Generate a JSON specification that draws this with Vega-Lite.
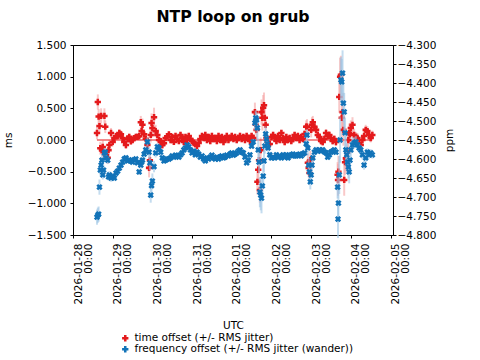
{
  "$schema": "https://vega.github.io/schema/vega-lite/v6.json",
  "width": 320,
  "height": 190,
  "autosize": {"type": "none"},
  "padding": {"left": 73, "top": 45, "right": 87, "bottom": 125},
  "background": "white",
  "title": {"text": "NTP loop on grub", "font": "DejaVu Sans", "fontSize": 15.7, "fontWeight": "bold", "color": "black", "anchor": "middle", "offset": 14},
  "config": {
    "font": "DejaVu Sans",
    "view": {"stroke": "black", "strokeWidth": 1},
    "axis": {"labelFont": "DejaVu Sans", "labelFontSize": 10.5, "labelColor": "black", "titleFont": "DejaVu Sans", "titleFontSize": 10.5, "titleFontWeight": "normal", "titleColor": "black", "domainColor": "black", "tickColor": "black", "grid": false, "tickSize": 3},
    "legend": {"labelFont": "DejaVu Sans", "labelFontSize": 10.5, "labelColor": "black"}
  },
  "data": {"values": [
    {"t":"2026-01-28T14:30:00Z","ms":0.11,"mj":0.10,"ppm":-4.753,"pj":0.02},
    {"t":"2026-01-28T15:00:00Z","ms":0.60,"mj":0.12,"ppm":-4.748,"pj":0.02},
    {"t":"2026-01-28T15:30:00Z","ms":0.37,"mj":0.12,"ppm":-4.745,"pj":0.02},
    {"t":"2026-01-28T16:00:00Z","ms":0.22,"mj":0.12,"ppm":-4.674,"pj":0.02},
    {"t":"2026-01-28T16:30:00Z","ms":-0.13,"mj":0.10,"ppm":-4.629,"pj":0.015},
    {"t":"2026-01-28T17:00:00Z","ms":0.38,"mj":0.12,"ppm":-4.616,"pj":0.015},
    {"t":"2026-01-28T17:30:00Z","ms":-0.16,"mj":0.10,"ppm":-4.603,"pj":0.015},
    {"t":"2026-01-28T18:00:00Z","ms":-0.11,"mj":0.10,"ppm":-4.642,"pj":0.012},
    {"t":"2026-01-28T18:30:00Z","ms":-0.19,"mj":0.10,"ppm":-4.629,"pj":0.012},
    {"t":"2026-01-28T19:00:00Z","ms":0.38,"mj":0.12,"ppm":-4.584,"pj":0.012},
    {"t":"2026-01-28T19:30:00Z","ms":0.21,"mj":0.10,"ppm":-4.582,"pj":0.01},
    {"t":"2026-01-28T20:00:00Z","ms":-0.24,"mj":0.10,"ppm":-4.597,"pj":0.01},
    {"t":"2026-01-28T21:00:00Z","ms":-0.28,"mj":0.10,"ppm":-4.603,"pj":0.01},
    {"t":"2026-01-28T21:30:00Z","ms":-0.16,"mj":0.08,"ppm":-4.647,"pj":0.01},
    {"t":"2026-01-28T22:00:00Z","ms":-0.08,"mj":0.08,"ppm":-4.642,"pj":0.01},
    {"t":"2026-01-28T23:00:00Z","ms":0.11,"mj":0.08,"ppm":-4.650,"pj":0.01},
    {"t":"2026-01-29T00:00:00Z","ms":-0.03,"mj":0.07,"ppm":-4.645,"pj":0.008},
    {"t":"2026-01-29T01:00:00Z","ms":0.03,"mj":0.07,"ppm":-4.650,"pj":0.008},
    {"t":"2026-01-29T02:00:00Z","ms":0.06,"mj":0.06,"ppm":-4.637,"pj":0.008},
    {"t":"2026-01-29T03:00:00Z","ms":0.06,"mj":0.06,"ppm":-4.632,"pj":0.008},
    {"t":"2026-01-29T04:00:00Z","ms":0.11,"mj":0.06,"ppm":-4.624,"pj":0.007},
    {"t":"2026-01-29T05:00:00Z","ms":0.09,"mj":0.06,"ppm":-4.616,"pj":0.007},
    {"t":"2026-01-29T06:00:00Z","ms":0.03,"mj":0.06,"ppm":-4.608,"pj":0.007},
    {"t":"2026-01-29T07:00:00Z","ms":-0.03,"mj":0.06,"ppm":-4.600,"pj":0.007},
    {"t":"2026-01-29T08:00:00Z","ms":-0.08,"mj":0.06,"ppm":-4.597,"pj":0.006},
    {"t":"2026-01-29T09:00:00Z","ms":0.02,"mj":0.05,"ppm":-4.605,"pj":0.006},
    {"t":"2026-01-29T10:00:00Z","ms":0.05,"mj":0.05,"ppm":-4.602,"pj":0.006},
    {"t":"2026-01-29T11:00:00Z","ms":-0.02,"mj":0.05,"ppm":-4.605,"pj":0.006},
    {"t":"2026-01-29T12:00:00Z","ms":0.0,"mj":0.05,"ppm":-4.608,"pj":0.006},
    {"t":"2026-01-29T13:00:00Z","ms":0.03,"mj":0.05,"ppm":-4.602,"pj":0.006},
    {"t":"2026-01-29T14:00:00Z","ms":0.05,"mj":0.05,"ppm":-4.600,"pj":0.006},
    {"t":"2026-01-29T15:00:00Z","ms":0.05,"mj":0.05,"ppm":-4.610,"pj":0.006},
    {"t":"2026-01-29T16:00:00Z","ms":0.06,"mj":0.06,"ppm":-4.634,"pj":0.008},
    {"t":"2026-01-29T17:00:00Z","ms":0.28,"mj":0.10,"ppm":-4.616,"pj":0.01},
    {"t":"2026-01-29T17:30:00Z","ms":0.14,"mj":0.10,"ppm":-4.608,"pj":0.01},
    {"t":"2026-01-29T18:00:00Z","ms":0.24,"mj":0.10,"ppm":-4.603,"pj":0.01},
    {"t":"2026-01-29T19:00:00Z","ms":0.09,"mj":0.08,"ppm":-4.587,"pj":0.01},
    {"t":"2026-01-29T20:00:00Z","ms":0.02,"mj":0.08,"ppm":-4.576,"pj":0.01},
    {"t":"2026-01-29T21:00:00Z","ms":-0.08,"mj":0.10,"ppm":-4.555,"pj":0.012},
    {"t":"2026-01-29T22:00:00Z","ms":-0.44,"mj":0.15,"ppm":-4.582,"pj":0.015},
    {"t":"2026-01-29T22:30:00Z","ms":-0.32,"mj":0.15,"ppm":-4.610,"pj":0.02},
    {"t":"2026-01-29T23:00:00Z","ms":0.08,"mj":0.12,"ppm":-4.695,"pj":0.02},
    {"t":"2026-01-29T23:30:00Z","ms":0.27,"mj":0.15,"ppm":-4.670,"pj":0.02},
    {"t":"2026-01-30T00:00:00Z","ms":0.19,"mj":0.15,"ppm":-4.658,"pj":0.02},
    {"t":"2026-01-30T01:00:00Z","ms":0.36,"mj":0.15,"ppm":-4.620,"pj":0.015},
    {"t":"2026-01-30T02:00:00Z","ms":0.14,"mj":0.10,"ppm":-4.584,"pj":0.012},
    {"t":"2026-01-30T03:00:00Z","ms":0.08,"mj":0.08,"ppm":-4.568,"pj":0.01},
    {"t":"2026-01-30T04:00:00Z","ms":0.0,"mj":0.06,"ppm":-4.571,"pj":0.008},
    {"t":"2026-01-30T05:00:00Z","ms":-0.02,"mj":0.06,"ppm":-4.582,"pj":0.008},
    {"t":"2026-01-30T06:00:00Z","ms":-0.08,"mj":0.06,"ppm":-4.597,"pj":0.007},
    {"t":"2026-01-30T07:00:00Z","ms":-0.05,"mj":0.05,"ppm":-4.605,"pj":0.006},
    {"t":"2026-01-30T08:00:00Z","ms":0.03,"mj":0.05,"ppm":-4.603,"pj":0.006},
    {"t":"2026-01-30T09:00:00Z","ms":0.06,"mj":0.05,"ppm":-4.600,"pj":0.006},
    {"t":"2026-01-30T10:00:00Z","ms":0.09,"mj":0.05,"ppm":-4.600,"pj":0.006},
    {"t":"2026-01-30T11:00:00Z","ms":0.0,"mj":0.05,"ppm":-4.597,"pj":0.006},
    {"t":"2026-01-30T12:00:00Z","ms":0.047,"mj":0.05,"ppm":-4.592,"pj":0.005},
    {"t":"2026-01-30T13:00:00Z","ms":-0.03,"mj":0.05,"ppm":-4.595,"pj":0.005},
    {"t":"2026-01-30T14:00:00Z","ms":0.063,"mj":0.05,"ppm":-4.590,"pj":0.005},
    {"t":"2026-01-30T15:00:00Z","ms":0.016,"mj":0.05,"ppm":-4.592,"pj":0.005},
    {"t":"2026-01-30T16:00:00Z","ms":-0.016,"mj":0.05,"ppm":-4.595,"pj":0.005},
    {"t":"2026-01-30T17:00:00Z","ms":0.079,"mj":0.05,"ppm":-4.589,"pj":0.005},
    {"t":"2026-01-30T18:00:00Z","ms":0.032,"mj":0.05,"ppm":-4.584,"pj":0.005},
    {"t":"2026-01-30T19:00:00Z","ms":-0.032,"mj":0.05,"ppm":-4.576,"pj":0.005},
    {"t":"2026-01-30T20:00:00Z","ms":0.047,"mj":0.05,"ppm":-4.571,"pj":0.005},
    {"t":"2026-01-30T21:00:00Z","ms":0.0,"mj":0.05,"ppm":-4.563,"pj":0.005},
    {"t":"2026-01-30T22:00:00Z","ms":0.063,"mj":0.05,"ppm":-4.568,"pj":0.005},
    {"t":"2026-01-30T23:00:00Z","ms":0.016,"mj":0.05,"ppm":-4.576,"pj":0.005},
    {"t":"2026-01-31T00:00:00Z","ms":-0.016,"mj":0.05,"ppm":-4.584,"pj":0.005},
    {"t":"2026-01-31T01:00:00Z","ms":-0.047,"mj":0.05,"ppm":-4.579,"pj":0.005},
    {"t":"2026-01-31T02:00:00Z","ms":-0.063,"mj":0.05,"ppm":-4.589,"pj":0.005},
    {"t":"2026-01-31T03:00:00Z","ms":-0.095,"mj":0.05,"ppm":-4.582,"pj":0.005},
    {"t":"2026-01-31T04:00:00Z","ms":-0.047,"mj":0.05,"ppm":-4.587,"pj":0.005},
    {"t":"2026-01-31T05:00:00Z","ms":0.016,"mj":0.05,"ppm":-4.595,"pj":0.005},
    {"t":"2026-01-31T06:00:00Z","ms":0.063,"mj":0.05,"ppm":-4.592,"pj":0.005},
    {"t":"2026-01-31T07:00:00Z","ms":0.032,"mj":0.05,"ppm":-4.600,"pj":0.005},
    {"t":"2026-01-31T08:00:00Z","ms":0.079,"mj":0.05,"ppm":-4.605,"pj":0.005},
    {"t":"2026-01-31T09:00:00Z","ms":0.0,"mj":0.05,"ppm":-4.597,"pj":0.005},
    {"t":"2026-01-31T10:00:00Z","ms":0.047,"mj":0.05,"ppm":-4.600,"pj":0.005},
    {"t":"2026-01-31T11:00:00Z","ms":-0.016,"mj":0.05,"ppm":-4.595,"pj":0.005},
    {"t":"2026-01-31T12:00:00Z","ms":0.063,"mj":0.05,"ppm":-4.590,"pj":0.005},
    {"t":"2026-01-31T13:00:00Z","ms":0.016,"mj":0.05,"ppm":-4.597,"pj":0.005},
    {"t":"2026-01-31T14:00:00Z","ms":0.032,"mj":0.05,"ppm":-4.600,"pj":0.005},
    {"t":"2026-01-31T15:00:00Z","ms":-0.016,"mj":0.05,"ppm":-4.595,"pj":0.005},
    {"t":"2026-01-31T16:00:00Z","ms":0.063,"mj":0.05,"ppm":-4.600,"pj":0.005},
    {"t":"2026-01-31T17:00:00Z","ms":0.0,"mj":0.05,"ppm":-4.595,"pj":0.005},
    {"t":"2026-01-31T18:00:00Z","ms":0.047,"mj":0.05,"ppm":-4.592,"pj":0.005},
    {"t":"2026-01-31T19:00:00Z","ms":-0.032,"mj":0.05,"ppm":-4.597,"pj":0.005},
    {"t":"2026-01-31T20:00:00Z","ms":0.016,"mj":0.05,"ppm":-4.595,"pj":0.005},
    {"t":"2026-01-31T21:00:00Z","ms":0.063,"mj":0.05,"ppm":-4.590,"pj":0.005},
    {"t":"2026-01-31T22:00:00Z","ms":0.0,"mj":0.05,"ppm":-4.592,"pj":0.005},
    {"t":"2026-01-31T23:00:00Z","ms":0.032,"mj":0.05,"ppm":-4.587,"pj":0.005},
    {"t":"2026-02-01T00:00:00Z","ms":0.063,"mj":0.05,"ppm":-4.584,"pj":0.005},
    {"t":"2026-02-01T01:00:00Z","ms":0.016,"mj":0.05,"ppm":-4.590,"pj":0.005},
    {"t":"2026-02-01T02:00:00Z","ms":0.047,"mj":0.05,"ppm":-4.587,"pj":0.005},
    {"t":"2026-02-01T03:00:00Z","ms":0.0,"mj":0.05,"ppm":-4.584,"pj":0.005},
    {"t":"2026-02-01T04:00:00Z","ms":0.032,"mj":0.05,"ppm":-4.579,"pj":0.005},
    {"t":"2026-02-01T05:00:00Z","ms":0.063,"mj":0.05,"ppm":-4.576,"pj":0.005},
    {"t":"2026-02-01T06:00:00Z","ms":0.016,"mj":0.05,"ppm":-4.582,"pj":0.005},
    {"t":"2026-02-01T07:00:00Z","ms":0.047,"mj":0.05,"ppm":-4.584,"pj":0.005},
    {"t":"2026-02-01T08:00:00Z","ms":0.0,"mj":0.05,"ppm":-4.595,"pj":0.005},
    {"t":"2026-02-01T09:00:00Z","ms":0.063,"mj":0.05,"ppm":-4.610,"pj":0.005},
    {"t":"2026-02-01T10:00:00Z","ms":0.032,"mj":0.05,"ppm":-4.603,"pj":0.005},
    {"t":"2026-02-01T11:00:00Z","ms":-0.016,"mj":0.05,"ppm":-4.589,"pj":0.005},
    {"t":"2026-02-01T12:00:00Z","ms":0.063,"mj":0.05,"ppm":-4.566,"pj":0.006},
    {"t":"2026-02-01T13:00:00Z","ms":0.032,"mj":0.06,"ppm":-4.555,"pj":0.008},
    {"t":"2026-02-01T14:00:00Z","ms":0.44,"mj":0.15,"ppm":-4.505,"pj":0.02},
    {"t":"2026-02-01T14:30:00Z","ms":0.24,"mj":0.15,"ppm":-4.492,"pj":0.02},
    {"t":"2026-02-01T15:00:00Z","ms":0.16,"mj":0.15,"ppm":-4.497,"pj":0.02},
    {"t":"2026-02-01T15:30:00Z","ms":-0.66,"mj":0.20,"ppm":-4.518,"pj":0.03},
    {"t":"2026-02-01T16:00:00Z","ms":-0.47,"mj":0.20,"ppm":-4.576,"pj":0.03},
    {"t":"2026-02-01T16:30:00Z","ms":-0.32,"mj":0.20,"ppm":-4.608,"pj":0.03},
    {"t":"2026-02-01T17:00:00Z","ms":-0.79,"mj":0.20,"ppm":-4.687,"pj":0.04},
    {"t":"2026-02-01T17:30:00Z","ms":-0.16,"mj":0.20,"ppm":-4.695,"pj":0.04},
    {"t":"2026-02-01T18:00:00Z","ms":0.44,"mj":0.20,"ppm":-4.703,"pj":0.04},
    {"t":"2026-02-01T18:30:00Z","ms":0.35,"mj":0.20,"ppm":-4.671,"pj":0.03},
    {"t":"2026-02-01T19:00:00Z","ms":0.51,"mj":0.20,"ppm":-4.645,"pj":0.03},
    {"t":"2026-02-01T19:30:00Z","ms":0.55,"mj":0.20,"ppm":-4.605,"pj":0.03},
    {"t":"2026-02-01T20:00:00Z","ms":0.35,"mj":0.15,"ppm":-4.566,"pj":0.02},
    {"t":"2026-02-01T20:30:00Z","ms":0.24,"mj":0.12,"ppm":-4.534,"pj":0.02},
    {"t":"2026-02-01T21:00:00Z","ms":0.032,"mj":0.10,"ppm":-4.547,"pj":0.015},
    {"t":"2026-02-01T21:30:00Z","ms":-0.032,"mj":0.08,"ppm":-4.560,"pj":0.012},
    {"t":"2026-02-01T22:00:00Z","ms":-0.079,"mj":0.07,"ppm":-4.571,"pj":0.01},
    {"t":"2026-02-01T23:00:00Z","ms":-0.063,"mj":0.06,"ppm":-4.589,"pj":0.008},
    {"t":"2026-02-02T00:00:00Z","ms":0.047,"mj":0.05,"ppm":-4.597,"pj":0.006},
    {"t":"2026-02-02T01:00:00Z","ms":0.079,"mj":0.05,"ppm":-4.595,"pj":0.006},
    {"t":"2026-02-02T02:00:00Z","ms":0.032,"mj":0.05,"ppm":-4.597,"pj":0.006},
    {"t":"2026-02-02T03:00:00Z","ms":-0.016,"mj":0.05,"ppm":-4.589,"pj":0.006},
    {"t":"2026-02-02T04:00:00Z","ms":0.063,"mj":0.05,"ppm":-4.595,"pj":0.006},
    {"t":"2026-02-02T05:00:00Z","ms":0.0,"mj":0.05,"ppm":-4.592,"pj":0.006},
    {"t":"2026-02-02T06:00:00Z","ms":0.111,"mj":0.05,"ppm":-4.597,"pj":0.006},
    {"t":"2026-02-02T07:00:00Z","ms":0.032,"mj":0.05,"ppm":-4.589,"pj":0.006},
    {"t":"2026-02-02T08:00:00Z","ms":-0.032,"mj":0.05,"ppm":-4.595,"pj":0.006},
    {"t":"2026-02-02T09:00:00Z","ms":0.047,"mj":0.05,"ppm":-4.589,"pj":0.006},
    {"t":"2026-02-02T10:00:00Z","ms":0.0,"mj":0.05,"ppm":-4.597,"pj":0.006},
    {"t":"2026-02-02T11:00:00Z","ms":0.032,"mj":0.05,"ppm":-4.592,"pj":0.006},
    {"t":"2026-02-02T12:00:00Z","ms":-0.016,"mj":0.05,"ppm":-4.589,"pj":0.006},
    {"t":"2026-02-02T13:00:00Z","ms":0.016,"mj":0.05,"ppm":-4.587,"pj":0.006},
    {"t":"2026-02-02T14:00:00Z","ms":0.079,"mj":0.05,"ppm":-4.592,"pj":0.006},
    {"t":"2026-02-02T15:00:00Z","ms":0.032,"mj":0.05,"ppm":-4.592,"pj":0.006},
    {"t":"2026-02-02T16:00:00Z","ms":0.063,"mj":0.05,"ppm":-4.589,"pj":0.006},
    {"t":"2026-02-02T17:00:00Z","ms":0.0,"mj":0.05,"ppm":-4.587,"pj":0.006},
    {"t":"2026-02-02T18:00:00Z","ms":0.047,"mj":0.05,"ppm":-4.592,"pj":0.006},
    {"t":"2026-02-02T19:00:00Z","ms":0.016,"mj":0.05,"ppm":-4.587,"pj":0.006},
    {"t":"2026-02-02T20:00:00Z","ms":0.095,"mj":0.06,"ppm":-4.584,"pj":0.008},
    {"t":"2026-02-02T21:00:00Z","ms":0.21,"mj":0.10,"ppm":-4.560,"pj":0.012},
    {"t":"2026-02-02T21:30:00Z","ms":0.21,"mj":0.12,"ppm":-4.537,"pj":0.015},
    {"t":"2026-02-02T22:00:00Z","ms":-0.36,"mj":0.15,"ppm":-4.571,"pj":0.02},
    {"t":"2026-02-02T22:30:00Z","ms":-0.44,"mj":0.15,"ppm":-4.616,"pj":0.02},
    {"t":"2026-02-02T23:00:00Z","ms":-0.52,"mj":0.15,"ppm":-4.634,"pj":0.02},
    {"t":"2026-02-02T23:30:00Z","ms":-0.32,"mj":0.15,"ppm":-4.660,"pj":0.02},
    {"t":"2026-02-03T00:00:00Z","ms":0.16,"mj":0.12,"ppm":-4.642,"pj":0.02},
    {"t":"2026-02-03T00:30:00Z","ms":0.24,"mj":0.12,"ppm":-4.616,"pj":0.015},
    {"t":"2026-02-03T01:00:00Z","ms":0.28,"mj":0.10,"ppm":-4.597,"pj":0.012},
    {"t":"2026-02-03T02:00:00Z","ms":0.21,"mj":0.08,"ppm":-4.582,"pj":0.01},
    {"t":"2026-02-03T03:00:00Z","ms":0.16,"mj":0.08,"ppm":-4.576,"pj":0.008},
    {"t":"2026-02-03T04:00:00Z","ms":0.079,"mj":0.06,"ppm":-4.579,"pj":0.007},
    {"t":"2026-02-03T05:00:00Z","ms":0.047,"mj":0.06,"ppm":-4.576,"pj":0.007},
    {"t":"2026-02-03T06:00:00Z","ms":-0.016,"mj":0.06,"ppm":-4.579,"pj":0.007},
    {"t":"2026-02-03T07:00:00Z","ms":-0.032,"mj":0.06,"ppm":-4.576,"pj":0.007},
    {"t":"2026-02-03T08:00:00Z","ms":0.016,"mj":0.06,"ppm":-4.581,"pj":0.007},
    {"t":"2026-02-03T09:00:00Z","ms":0.11,"mj":0.06,"ppm":-4.584,"pj":0.007},
    {"t":"2026-02-03T10:00:00Z","ms":0.063,"mj":0.06,"ppm":-4.595,"pj":0.007},
    {"t":"2026-02-03T11:00:00Z","ms":0.079,"mj":0.06,"ppm":-4.589,"pj":0.007},
    {"t":"2026-02-03T12:00:00Z","ms":0.032,"mj":0.06,"ppm":-4.582,"pj":0.007},
    {"t":"2026-02-03T13:00:00Z","ms":-0.016,"mj":0.06,"ppm":-4.579,"pj":0.007},
    {"t":"2026-02-03T14:00:00Z","ms":0.016,"mj":0.06,"ppm":-4.576,"pj":0.007},
    {"t":"2026-02-03T15:00:00Z","ms":-0.032,"mj":0.06,"ppm":-4.582,"pj":0.007},
    {"t":"2026-02-03T16:00:00Z","ms":-0.55,"mj":0.20,"ppm":-4.674,"pj":0.03},
    {"t":"2026-02-03T16:15:00Z","ms":-0.63,"mj":0.25,"ppm":-4.758,"pj":0.05},
    {"t":"2026-02-03T16:30:00Z","ms":-0.50,"mj":0.25,"ppm":-4.716,"pj":0.05},
    {"t":"2026-02-03T17:00:00Z","ms":0.68,"mj":0.25,"ppm":-4.642,"pj":0.05},
    {"t":"2026-02-03T17:30:00Z","ms":1.00,"mj":0.30,"ppm":-4.550,"pj":0.06},
    {"t":"2026-02-03T18:00:00Z","ms":1.03,"mj":0.30,"ppm":-4.392,"pj":0.06},
    {"t":"2026-02-03T18:30:00Z","ms":0.35,"mj":0.30,"ppm":-4.397,"pj":0.06},
    {"t":"2026-02-03T19:00:00Z","ms":0.44,"mj":0.30,"ppm":-4.374,"pj":0.06},
    {"t":"2026-02-03T19:30:00Z","ms":0.16,"mj":0.25,"ppm":-4.453,"pj":0.05},
    {"t":"2026-02-03T20:00:00Z","ms":-0.63,"mj":0.25,"ppm":-4.476,"pj":0.05},
    {"t":"2026-02-03T20:30:00Z","ms":-0.35,"mj":0.20,"ppm":-4.531,"pj":0.04},
    {"t":"2026-02-03T21:00:00Z","ms":-0.29,"mj":0.20,"ppm":-4.576,"pj":0.04},
    {"t":"2026-02-03T21:30:00Z","ms":-0.32,"mj":0.20,"ppm":-4.589,"pj":0.03},
    {"t":"2026-02-03T22:00:00Z","ms":-0.20,"mj":0.15,"ppm":-4.608,"pj":0.03},
    {"t":"2026-02-03T22:30:00Z","ms":0.0,"mj":0.15,"ppm":-4.621,"pj":0.03},
    {"t":"2026-02-03T23:00:00Z","ms":0.11,"mj":0.15,"ppm":-4.634,"pj":0.03},
    {"t":"2026-02-03T23:30:00Z","ms":0.09,"mj":0.12,"ppm":-4.603,"pj":0.025},
    {"t":"2026-02-04T00:00:00Z","ms":0.19,"mj":0.12,"ppm":-4.576,"pj":0.02},
    {"t":"2026-02-04T01:00:00Z","ms":0.24,"mj":0.12,"ppm":-4.563,"pj":0.02},
    {"t":"2026-02-04T02:00:00Z","ms":0.08,"mj":0.10,"ppm":-4.558,"pj":0.015},
    {"t":"2026-02-04T03:00:00Z","ms":0.047,"mj":0.08,"ppm":-4.555,"pj":0.015},
    {"t":"2026-02-04T04:00:00Z","ms":0.032,"mj":0.08,"ppm":-4.563,"pj":0.012},
    {"t":"2026-02-04T05:00:00Z","ms":-0.047,"mj":0.08,"ppm":-4.571,"pj":0.012},
    {"t":"2026-02-04T06:00:00Z","ms":-0.079,"mj":0.08,"ppm":-4.576,"pj":0.012},
    {"t":"2026-02-04T07:00:00Z","ms":0.0,"mj":0.08,"ppm":-4.589,"pj":0.012},
    {"t":"2026-02-04T08:00:00Z","ms":0.063,"mj":0.08,"ppm":-4.616,"pj":0.012},
    {"t":"2026-02-04T09:00:00Z","ms":0.16,"mj":0.08,"ppm":-4.597,"pj":0.012},
    {"t":"2026-02-04T10:00:00Z","ms":0.14,"mj":0.08,"ppm":-4.582,"pj":0.01},
    {"t":"2026-02-04T11:00:00Z","ms":0.08,"mj":0.07,"ppm":-4.589,"pj":0.01},
    {"t":"2026-02-04T12:00:00Z","ms":0.032,"mj":0.07,"ppm":-4.584,"pj":0.01},
    {"t":"2026-02-04T13:00:00Z","ms":0.079,"mj":0.07,"ppm":-4.589,"pj":0.01}
  ]},
  "resolve": {"scale": {"y": "independent"}},
  "layer": [
    {
      "layer": [
        {"mark": {"type": "errorbar", "color": "#f5a3a3", "opacity": 0.6, "thickness": 2},
         "encoding": {
           "x": {"field": "t", "type": "temporal", "scale": {"type": "utc", "domain": [{"year": 2026, "month": 1, "date": 28, "utc": true}, {"year": 2026, "month": 2, "date": 5, "hours": 1, "minutes": 30, "utc": true}]},
             "axis": {"title": "UTC", "tickCount": 8,
               "labelExpr": "[utcFormat(datum.value, '%Y-%m-%d'), utcFormat(datum.value, '%H:%M')]",
               "labelAngle": 270, "labelLineHeight": 10, "labelOffset": 5, "labelOverlap": false, "labelFlush": false, "labelPadding": 5, "titleY": 90, "titleBaseline": "middle"}},
           "y": {"field": "ms", "type": "quantitative", "scale": {"domain": [-1.5, 1.5], "nice": false, "zero": false},
             "axis": {"orient": "left", "title": "ms", "tickCount": 7, "values": [-1.5, -1, -0.5, 0, 0.5, 1, 1.5], "format": ".3f", "labelOverlap": false, "labelPadding": 4, "titleX": -60}},
           "yError": {"field": "mj"}}},
        {"mark": {"type": "rule", "color": "#e41a1c", "strokeWidth": 1},
         "encoding": {"x": {"aggregate": "min", "field": "t", "type": "temporal"}, "x2": {"aggregate": "max", "field": "t"}, "y": {"datum": 0, "type": "quantitative"}}},
        {"mark": {"type": "point", "filled": true, "size": 40, "opacity": 1},
         "encoding": {
           "x": {"field": "t", "type": "temporal"},
           "y": {"field": "ms", "type": "quantitative",
             "axis": {"orient": "left", "title": "ms", "tickCount": 7, "values": [-1.5, -1, -0.5, 0, 0.5, 1, 1.5], "format": ".3f", "labelOverlap": false, "labelPadding": 4, "titleX": -60}},
           "color": {"datum": "time offset (+/- RMS jitter)", "type": "nominal",
             "scale": {"domain": ["time offset (+/- RMS jitter)", "frequency offset (+/- RMS jitter (wander))"], "range": ["#e41a1c", "#1273b8"]},
             "legend": {"orient": "none", "legendX": 47, "legendY": 288, "title": null, "labelLimit": 400, "symbolSize": 40, "rowPadding": 0, "direction": "vertical", "padding": 0}},
           "shape": {"datum": "time offset (+/- RMS jitter)", "type": "nominal",
             "scale": {"domain": ["time offset (+/- RMS jitter)", "frequency offset (+/- RMS jitter (wander))"], "range": ["cross", "cross"]}}}}
      ]
    },
    {
      "layer": [
        {"mark": {"type": "errorbar", "color": "#9cc4e4", "opacity": 0.6, "thickness": 2},
         "encoding": {
           "x": {"field": "t", "type": "temporal"},
           "y": {"field": "ppm", "type": "quantitative", "scale": {"domain": [-4.8, -4.3], "nice": false, "zero": false},
             "axis": {"orient": "right", "title": "ppm", "tickCount": 11, "values": [-4.8, -4.75, -4.7, -4.65, -4.6, -4.55, -4.5, -4.45, -4.4, -4.35, -4.3], "format": ".3f", "labelOverlap": false, "labelPadding": 1, "titleX": 61, "titleAngle": 270}},
           "yError": {"field": "pj"}}},
        {"mark": {"type": "point", "filled": true, "size": 40, "opacity": 1, "angle": 45},
         "encoding": {
           "x": {"field": "t", "type": "temporal"},
           "y": {"field": "ppm", "type": "quantitative",
             "axis": {"orient": "right", "title": "ppm", "tickCount": 11, "values": [-4.8, -4.75, -4.7, -4.65, -4.6, -4.55, -4.5, -4.45, -4.4, -4.35, -4.3], "format": ".3f", "labelOverlap": false, "labelPadding": 1, "titleX": 61, "titleAngle": 270}},
           "color": {"datum": "frequency offset (+/- RMS jitter (wander))", "type": "nominal"},
           "shape": {"datum": "frequency offset (+/- RMS jitter (wander))", "type": "nominal"}}}
      ]
    }
  ]
}
